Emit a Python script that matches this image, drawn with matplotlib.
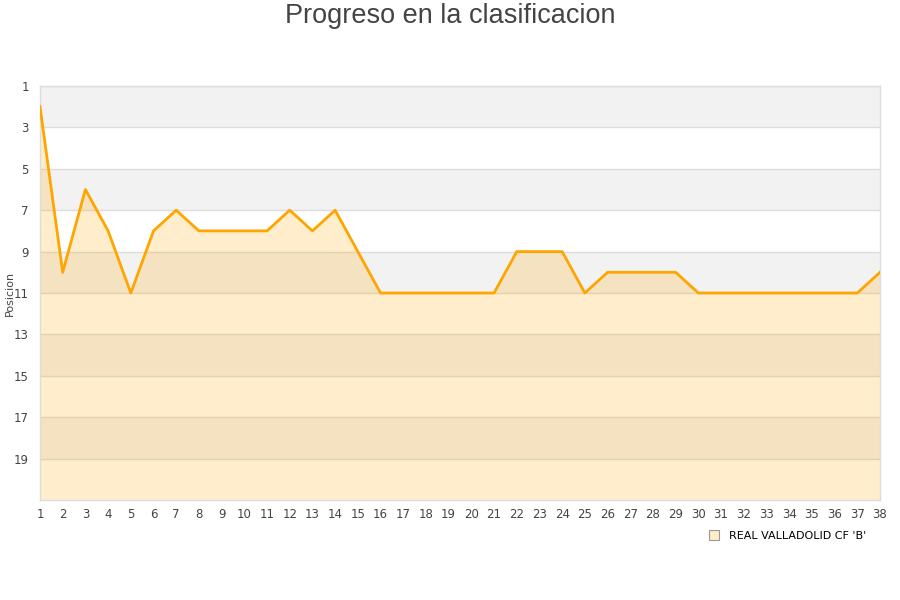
import matplotlib
matplotlib.use("Agg")
import matplotlib.pyplot as plt
from matplotlib.lines import Line2D

jornadas = list(range(1, 39))
posiciones = [2, 10, 6, 8, 11, 8, 7, 8, 8, 8, 8, 7, 8, 7, 9, 11, 11, 11, 11, 11, 11,
              9, 9, 9, 11, 10, 10, 10, 10, 11, 11, 11, 11, 11, 11, 11, 11, 10]
y_ticks = list(range(1, 21, 2))
equipo = "REAL VALLADOLID CF 'B'"
titulo = "Progreso en la clasificacion"

fig = plt.figure(figsize=(9, 6), dpi=100)
ax = fig.add_axes([40/900, 1-500/600, 840/900, 414/600])

# alternating bands
for i, t in enumerate(y_ticks):
    if i % 2 == 0:
        ax.axhspan(t, t + 2, color="#F2F2F2", zorder=0, lw=0)
for t in y_ticks:
    ax.axhline(t, color="#DDDDDD", lw=1, zorder=1)

ax.fill_between(jornadas, posiciones, 21, color="#FFA500", alpha=0.2, lw=0, zorder=2)
ax.plot(jornadas, posiciones, color="#FFA500", lw=2, zorder=3)

ax.set_xlim(1, 38)
ax.set_ylim(21, 1)
ax.set_xticks(jornadas)
ax.set_yticks(y_ticks)
ax.tick_params(axis="both", length=0, labelsize=8.5, labelcolor="#444444")
ax.tick_params(axis="x", pad=6)
ax.tick_params(axis="y", pad=8)
for s in ax.spines.values():
    s.set_color("#DDDDDD")
    s.set_linewidth(1)
ax.set_ylabel("Posicion", fontsize=8, color="#444444")
ax.yaxis.set_label_coords(-0.03, 0.5)

fig.text(0.5, 1-16/600, titulo, ha="center", va="center", fontsize=19.5,
         color="#444444", family="Liberation Sans")

handle = Line2D([], [], marker="s", ls="none", markersize=7,
                markerfacecolor="#FFEBC8", markeredgecolor="#999999", markeredgewidth=0.8)
fig.legend([handle], [equipo], loc="center left", bbox_to_anchor=(703/900, 1-536/600),
           frameon=False, fontsize=8, handletextpad=0.3, borderaxespad=0, borderpad=0)

fig.savefig("out.png", dpi=100)
